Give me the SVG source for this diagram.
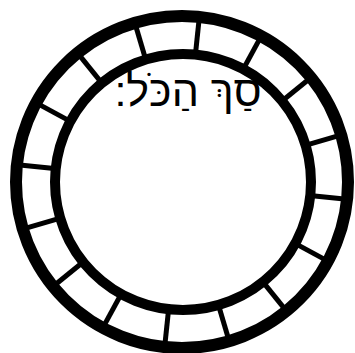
<svg xmlns="http://www.w3.org/2000/svg" width="355" height="353" viewBox="0 0 355 353">
<style>
.ring{fill:none;stroke:#000}
.spoke{stroke:#000;stroke-width:5}
.lbl{font-family:"Liberation Sans","DejaVu Sans",sans-serif;font-size:43px;fill:#000}
</style>
<rect width="355" height="353" fill="#fff"/>
<g id="wheel">
<circle class="ring" cx="182" cy="182" r="166" stroke-width="12"/>
<circle class="ring" cx="183" cy="182" r="128" stroke-width="10"/>
</g>
<g id="spokes">
<g transform="rotate(6 182 182)">
<line class="spoke" x1="182" y1="14" x2="182" y2="56"/>
<line class="spoke" x1="182" y1="14" x2="182" y2="56" transform="rotate(22.5 182 182)"/>
<line class="spoke" x1="182" y1="14" x2="182" y2="56" transform="rotate(45 182 182)"/>
<line class="spoke" x1="182" y1="14" x2="182" y2="56" transform="rotate(67.5 182 182)"/>
<line class="spoke" x1="182" y1="14" x2="182" y2="56" transform="rotate(90 182 182)"/>
<line class="spoke" x1="182" y1="14" x2="182" y2="56" transform="rotate(112.5 182 182)"/>
<line class="spoke" x1="182" y1="14" x2="182" y2="56" transform="rotate(135 182 182)"/>
<line class="spoke" x1="182" y1="14" x2="182" y2="56" transform="rotate(157.5 182 182)"/>
<line class="spoke" x1="182" y1="14" x2="182" y2="56" transform="rotate(180 182 182)"/>
<line class="spoke" x1="182" y1="14" x2="182" y2="56" transform="rotate(202.5 182 182)"/>
<line class="spoke" x1="182" y1="14" x2="182" y2="56" transform="rotate(225 182 182)"/>
<line class="spoke" x1="182" y1="14" x2="182" y2="56" transform="rotate(247.5 182 182)"/>
<line class="spoke" x1="182" y1="14" x2="182" y2="56" transform="rotate(270 182 182)"/>
<line class="spoke" x1="182" y1="14" x2="182" y2="56" transform="rotate(292.5 182 182)"/>
<line class="spoke" x1="182" y1="14" x2="182" y2="56" transform="rotate(315 182 182)"/>
<line class="spoke" x1="182" y1="14" x2="182" y2="56" transform="rotate(337.5 182 182)"/>
</g>
</g>
<g id="title">
<text class="lbl" x="188" y="106" text-anchor="middle" direction="rtl">סַךְ הַכֹּל:</text>
</g>
</svg>
